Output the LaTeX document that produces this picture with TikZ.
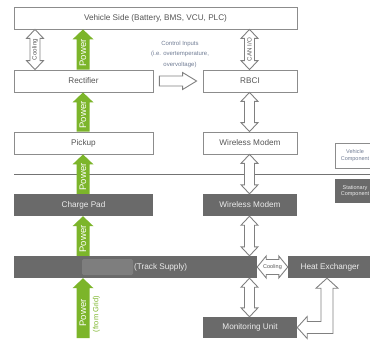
\documentclass[tikz,border=0pt]{standalone}
\usepackage{fontspec}
\setmainfont{Liberation Sans}
\usetikzlibrary{calc}

\definecolor{pwrgreen}{RGB}{124,181,42}
\definecolor{darkbox}{RGB}{106,106,106}
\definecolor{maskgray}{RGB}{126,126,126}
\definecolor{bordergray}{RGB}{140,140,140}
\definecolor{textgray}{RGB}{85,85,85}
\definecolor{lighttext}{RGB}{236,236,236}
\definecolor{ctrlblue}{RGB}{112,124,148}
\definecolor{arrowgray}{RGB}{128,128,128}

% green block arrow pointing up: x, tail point, tip point
\newcommand\pwrarrow[3]{%
  \fill[pwrgreen] let \p1=(#1,0 |- #2), \p2=(#1,0 |- #3) in
    (\x1-6.5pt,\y1) -- (\x1-6.5pt,\y2-10pt) -- (\x1-10.5pt,\y2-10pt) -- (\x1,\y2)
    -- (\x1+10.5pt,\y2-10pt) -- (\x1+6.5pt,\y2-10pt) -- (\x1+6.5pt,\y1) -- cycle;}

% white vertical double-headed block arrow: x, upper point, lower point
\newcommand\vdbl[3]{%
  \filldraw[dblarrow] let \p1=(#1,0 |- #2), \p2=(#1,0 |- #3) in
    (\x1,\y1) -- (\x1+8.5pt,\y1-9pt) -- (\x1+5pt,\y1-9pt) -- (\x1+5pt,\y2+9pt)
    -- (\x1+8.5pt,\y2+9pt) -- (\x1,\y2) -- (\x1-8.5pt,\y2+9pt) -- (\x1-5pt,\y2+9pt)
    -- (\x1-5pt,\y1-9pt) -- (\x1-8.5pt,\y1-9pt) -- cycle;}

\tikzset{
  vbox/.style={draw=bordergray, fill=white, line width=0.8pt, minimum height=22pt,
    inner sep=0pt, font=\fontsize{8.2}{9}\selectfont, text=textgray},
  sbox/.style={fill=darkbox, minimum height=22pt, inner sep=0pt,
    font=\fontsize{8.2}{9}\selectfont, text=lighttext},
  dblarrow/.style={fill=white, draw=arrowgray, line width=0.9pt, line join=miter},
  pwrlabel/.style={rotate=90, text=white, font=\fontsize{9.5}{10}\selectfont, inner sep=0pt},
  arrlabel/.style={rotate=90, text=textgray, font=\fontsize{6.2}{7}\selectfont, inner sep=0pt},
  sepline/.style={draw=arrowgray!90!black, line width=0.9pt},
}

\begin{document}
\begin{tikzpicture}[x=1pt,y=-1pt]
\useasboundingbox (0,0) rectangle (370,341);
\clip (0,0) rectangle (370,341);

% separator between vehicle and stationary parts
\coordinate (sepL) at (14,174);
\coordinate (sepR) at (370,174);
\draw[sepline] (sepL) -- (sepR);

% vehicle components
\node[vbox, minimum width=283pt] (veh) at (155.5,18) {Vehicle Side (Battery, BMS, VCU, PLC)};
\node[vbox, minimum width=139pt] (rect) at (83.5,81) {Rectifier};
\node[vbox, minimum width=94pt] (rbci) at (250,81) {RBCI};
\node[vbox, minimum width=139pt] (pick) at (83.5,143) {Pickup};
\node[vbox, minimum width=94pt] (wm1) at (250,143) {Wireless Modem};

% stationary components
\node[sbox, minimum width=139pt] (cp) at (83.5,205) {Charge Pad};
\node[sbox, minimum width=94pt] (wm2) at (250,205) {Wireless Modem};
\node[sbox, minimum width=243pt] (track) at (135.5,267) {};
\fill[maskgray, rounded corners=1.5pt] (82,259) rectangle (133,275);
\node[anchor=west, inner sep=0pt, font=\fontsize{8.2}{9}\selectfont, text=lighttext] (tracklbl) at (134,267) {(Track Supply)};
\node[sbox, minimum width=84pt] (hx) at (330,267) {Heat Exchanger};
\node[sbox, minimum width=94pt, minimum height=21pt] (mon) at (250,327.5) {Monitoring Unit};

% legend
\node[vbox, minimum width=40pt, minimum height=25pt, font=\fontsize{5.5}{6.5}\selectfont,
  text=ctrlblue, align=center] (legv) at (355,155.5) {Vehicle\\Component};
\node[sbox, minimum width=40pt, minimum height=24pt, font=\fontsize{5.5}{6.5}\selectfont,
  align=center] (legs) at (355,191) {Stationary\\Component};

% power flow
\coordinate (grid) at (83,338);
\pwrarrow{83}{rect.north}{veh.south}
\pwrarrow{83}{pick.north}{rect.south}
\pwrarrow{83}{cp.north}{pick.south}
\pwrarrow{83}{track.north}{cp.south}
\pwrarrow{83}{grid}{track.south}
\node[pwrlabel] (p1) at (83,53) {Power};
\node[pwrlabel] (p2) at (83,115) {Power};
\node[pwrlabel] (p3) at (83,177) {Power};
\node[pwrlabel] (p4) at (83,239) {Power};
\node[pwrlabel] (p5) at (83,313) {Power};
\node[rotate=90, inner sep=0pt, text=pwrgreen, font=\fontsize{7.5}{8}\selectfont] (p5b) at (96.5,314) {(from Grid)};

% cooling and signal links
\vdbl{35}{veh.south}{rect.north}
\node[arrlabel] (cool1) at (35,49.5) {Cooling};
\vdbl{249.5}{veh.south}{rbci.north}
\node[arrlabel] (can) at (249.5,49.5) {CAN I/O};
\vdbl{249.5}{rbci.south}{wm1.north}
\vdbl{249.5}{wm1.south}{wm2.north}
\vdbl{249.5}{wm2.south}{track.north}
\vdbl{249.5}{track.south}{mon.north}

% control inputs from rectifier to RBCI
\filldraw[dblarrow] let \p1=(rect.east), \p2=(rbci.west) in
  (\x1+6pt,\y1+5pt) -- (\x2-20pt,\y1+5pt) -- (\x2-20pt,\y1+8.5pt) -- (\x2-6pt,\y1)
  -- (\x2-20pt,\y1-8.5pt) -- (\x2-20pt,\y1-5pt) -- (\x1+6pt,\y1-5pt) -- cycle;
\node[align=center, text=ctrlblue, font=\fontsize{6}{10.5}\selectfont, inner sep=0pt] (ctrl)
  at (180,54) {Control Inputs\\(i.e. overtemperature,\\overvoltage)};

% cooling between track supply and heat exchanger
\filldraw[dblarrow] let \p1=(track.east), \p2=(hx.west) in
  (\x1,\y1) -- (\x1+9pt,\y1+11pt) -- (\x1+9pt,\y1+7.5pt) -- (\x2-9pt,\y1+7.5pt)
  -- (\x2-9pt,\y1+11pt) -- (\x2,\y1) -- (\x2-9pt,\y1-11pt) -- (\x2-9pt,\y1-7.5pt)
  -- (\x1+9pt,\y1-7.5pt) -- (\x1+9pt,\y1-11pt) -- cycle;
\node[text=textgray, font=\fontsize{5.5}{6}\selectfont, inner sep=0pt] (cool2) at (272.5,267) {Cooling};

% heat exchanger to monitoring unit (elbow)
\filldraw[dblarrow] let \p1=(327,0 |- hx.south), \p2=(mon.east) in
  (\x1,\y1) -- (\x1+11pt,\y1-10pt) -- (\x1+6pt,\y1-10pt) -- (\x1+6pt,\y2-6pt)
  -- (\x2+10pt,\y2-6pt) -- (\x2+10pt,\y2-11pt) -- (\x2,\y2) -- (\x2+10pt,\y2+11pt)
  -- (\x2+10pt,\y2+6pt) -- (\x1-6pt,\y2+6pt) -- (\x1-6pt,\y1-10pt) -- (\x1-11pt,\y1-10pt) -- cycle;
\end{tikzpicture}
\end{document}
